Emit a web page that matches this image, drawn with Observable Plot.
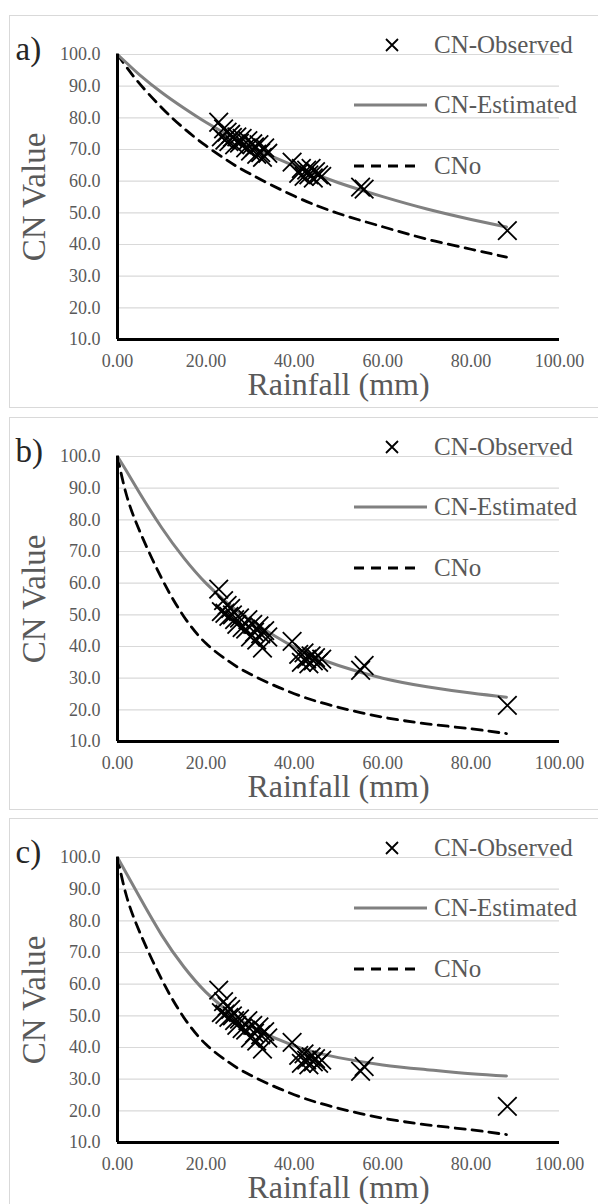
<!DOCTYPE html>
<html><head><meta charset="utf-8">
<script src="https://cdn.jsdelivr.net/npm/d3@7"></script>
<script src="https://cdn.jsdelivr.net/npm/@observablehq/plot@0.6"></script>
<style>
html,body{margin:0;padding:0;background:#fff;overflow:hidden;width:598px;height:1204px;}
.panel{position:absolute;left:9px;width:600px;height:391px;border:1px solid #d9d9d9;background:#fff;}
.panel svg{position:absolute;left:0;top:0;}
.panel svg, .panel svg text{font-family:"Liberation Serif","Times New Roman",serif !important;}
.leg{position:absolute;font-family:"Liberation Serif","Times New Roman",serif;font-size:25px;color:#595959;line-height:30px;white-space:nowrap;}
.sym{position:absolute;overflow:visible;}
</style></head><body>
<script>
const panelLabels = ["a)", "b)", "c)"];
const legendLabels = ["CN-Observed", "CN-Estimated", "CNo"];
const xTicks = [0, 20, 40, 60, 80, 100];
const yTicks = [10, 20, 30, 40, 50, 60, 70, 80, 90, 100];

// observed events: rainfall (mm)
const rainfall = [22.9, 23.5, 24.0, 24.3, 24.8, 25.2, 25.6, 26.0, 26.5, 27.0, 27.6, 28.2, 29.0, 29.5, 30.1, 30.6, 31.0, 31.5, 32.0, 32.4, 32.8, 33.3, 34.0, 39.5, 41.0, 41.6, 42.2, 42.8, 43.3, 43.8, 44.3, 44.8, 45.5, 46.2, 55.0, 55.8, 88.2];
const cnObservedA = [78.6, 74.0, 76.5, 73.0, 75.5, 72.5, 74.8, 73.8, 71.5, 74.0, 72.0, 73.5, 70.5, 72.8, 69.5, 71.8, 70.8, 68.5, 71.5, 69.0, 67.5, 70.5, 68.8, 66.0, 62.5, 64.0, 61.5, 63.5, 62.0, 64.0, 61.0, 63.0, 62.0, 61.5, 58.1, 57.5, 44.4];
const cnObservedB = [58.1, 51.0, 54.5, 50.5, 53.0, 49.5, 52.0, 50.0, 48.5, 47.0, 49.0, 46.0, 45.5, 48.5, 43.0, 47.0, 44.5, 42.0, 46.5, 44.0, 39.5, 45.0, 43.0, 41.6, 37.5, 35.0, 38.0, 36.0, 34.5, 37.0, 35.5, 36.5, 35.0, 36.0, 32.5, 34.0, 21.4];
const cnObservedC = [58.1, 51.0, 54.5, 50.5, 53.0, 49.5, 52.0, 50.0, 48.5, 47.0, 49.0, 46.0, 45.5, 48.5, 43.0, 47.0, 44.5, 42.0, 46.5, 44.0, 39.5, 45.0, 43.0, 41.6, 37.5, 35.0, 38.0, 36.0, 34.5, 37.0, 35.5, 36.5, 35.0, 36.0, 32.5, 34.0, 21.4];

// curves, read at these rainfall values
const curveRainfall = [0, 2, 5, 10, 15, 20, 25, 30, 40, 50, 60, 70, 80, 88];
const cnEstimatedA = [100, 97.4, 93.6, 88.0, 83.1, 78.6, 74.6, 71.0, 64.8, 59.5, 55.1, 51.2, 47.9, 45.5];
const cnEstimatedB = [100, 95.5, 88.5, 77.5, 68.0, 60.0, 53.5, 48.3, 39.8, 34.0, 30.0, 27.3, 25.3, 24.0];
const cnEstimatedC = [100, 95.0, 87.5, 75.5, 65.5, 57.5, 51.5, 46.8, 40.5, 36.8, 34.5, 33.0, 31.7, 31.0];
const cnoA = [100, 96.1, 90.8, 83.2, 76.7, 71.2, 66.4, 62.3, 55.3, 49.8, 45.6, 41.7, 38.5, 36.0];
const cnoB = [100, 88.0, 76.5, 61.5, 49.5, 41.0, 35.5, 31.3, 25.1, 20.8, 17.7, 15.6, 14.0, 12.5];
const cnoC = [100, 88.0, 76.5, 61.5, 49.5, 41.0, 35.5, 31.3, 25.1, 20.8, 17.7, 15.6, 14.0, 12.5];

const observedSets = [cnObservedA, cnObservedB, cnObservedC];
const estimatedSets = [cnEstimatedA, cnEstimatedB, cnEstimatedC];
const cnoSets = [cnoA, cnoB, cnoC];

const FONT = '"Liberation Serif","Times New Roman",serif';
const NS = "http://www.w3.org/2000/svg";

function svgEl(tag, attrs) {
  const e = document.createElementNS(NS, tag);
  for (const k in attrs) e.setAttribute(k, attrs[k]);
  return e;
}

function buildPanel(k) {
  const div = document.createElement("div");
  div.className = "panel";
  div.style.top = (15 + k * 401.5) + "px";
  document.body.appendChild(div);

  const obs = rainfall.map((r, i) => ({r, cn: observedSets[k][i]}));
  const est = curveRainfall.map((r, i) => ({r, cn: estimatedSets[k][i]}));
  const cno = curveRainfall.map((r, i) => ({r, cn: cnoSets[k][i]}));

  const chart = Plot.plot({
    width: 590, height: 391,
    marginLeft: 107, marginRight: 41, marginTop: 38, marginBottom: 68,
    style: {fontFamily: FONT, color: "#595959", background: "transparent", overflow: "visible"},
    x: {domain: [0, 100]},
    y: {domain: [10, 100]},
    marks: [
      Plot.gridY(yTicks.slice(1), {stroke: "#d9d9d9", strokeOpacity: 1, strokeWidth: 1.2}),
      Plot.axisY(yTicks, {tickSize: 0, tickPadding: 17, fontSize: 18, fontFamily: FONT, tickFormat: d3.format(".1f"), label: null}),
      Plot.axisX(xTicks, {tickSize: 0, tickPadding: 15, fontSize: 18, fontFamily: FONT, tickFormat: d3.format(".2f"), label: null}),
      Plot.line(cno, {x: "r", y: "cn", stroke: "black", strokeWidth: 2.8, strokeDasharray: "10,7", curve: "natural"}),
      Plot.line(est, {x: "r", y: "cn", stroke: "#808080", strokeWidth: 3, curve: "natural"}),
      Plot.dot(obs, {x: "r", y: "cn", symbol: "times", r: 8.5, stroke: "black", strokeWidth: 1.8}),
      Plot.ruleX([0], {stroke: "black", strokeWidth: 3}),
      Plot.ruleY([10], {stroke: "black", strokeWidth: 3}),
      Plot.text(["CN Value"], {frameAnchor: "left", textAnchor: "middle", lineAnchor: "middle", rotate: -90, dx: -83, fontSize: 33, fontFamily: FONT, fill: "#595959"}),
      Plot.text(["Rainfall (mm)"], {frameAnchor: "bottom", textAnchor: "middle", lineAnchor: "middle", dy: 45, fontSize: 32, fontFamily: FONT, fill: "#595959"}),
      Plot.text([panelLabels[k]], {frameAnchor: "top-left", textAnchor: "start", lineAnchor: "middle", dx: -102, dy: -5, fontSize: 33, fontFamily: FONT, fill: "#262626"})
    ]
  });
  div.appendChild(chart);

  // legend (inside the panel, upper right)
  const rows = [29, 89, 150];
  const s1 = svgEl("svg", {width: 16, height: 16, class: "sym"});
  s1.style.left = "374px"; s1.style.top = (rows[0] - 8) + "px";
  s1.appendChild(svgEl("path", {d: "M2,2L14,14M2,14L14,2", stroke: "#000", "stroke-width": 1.8, fill: "none"}));
  div.appendChild(s1);
  const s2 = svgEl("svg", {width: 74, height: 8, class: "sym"});
  s2.style.left = "344px"; s2.style.top = (rows[1] - 4) + "px";
  s2.appendChild(svgEl("line", {x1: 0, x2: 73, y1: 4, y2: 4, stroke: "#808080", "stroke-width": 3}));
  div.appendChild(s2);
  const s3 = svgEl("svg", {width: 70, height: 8, class: "sym"});
  s3.style.left = "344px"; s3.style.top = (rows[2] - 4) + "px";
  s3.appendChild(svgEl("line", {x1: 0, x2: 68, y1: 4, y2: 4, stroke: "#000", "stroke-width": 3, "stroke-dasharray": "10,7"}));
  div.appendChild(s3);
  legendLabels.forEach((t, i) => {
    const d = document.createElement("div");
    d.className = "leg";
    d.textContent = t;
    d.style.left = "424px";
    d.style.top = (rows[i] - 15) + "px";
    div.appendChild(d);
  });
}

[0, 1, 2].forEach(buildPanel);
</script>
</body></html>
